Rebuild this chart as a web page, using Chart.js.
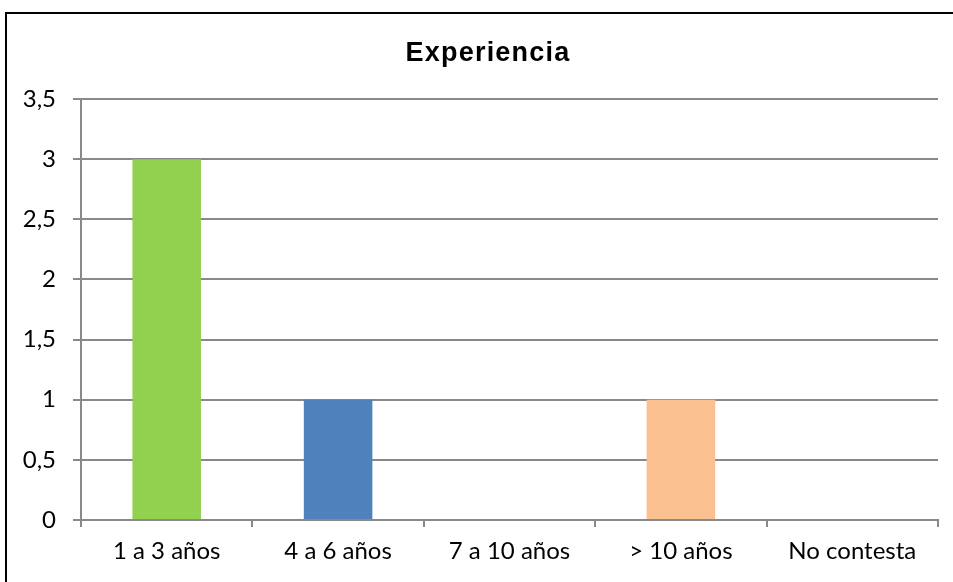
<!DOCTYPE html>
<html lang="es">
<head>
    <meta charset="UTF-8">
    <title>Experiencia</title>
    <script src="https://cdn.jsdelivr.net/npm/chart.js"></script>
    <style>
        html, body { margin: 0; padding: 0; background: #fff; }
        .wrap { position: relative; width: 953px; height: 582px; overflow: hidden; }
        .frame {
            position: absolute; left: 5px; top: 12px;
            width: 1000px; height: 600px;
            border-top: 2.5px solid #000; border-left: 2.5px solid #000;
            pointer-events: none;
        }
        canvas { position: absolute; left: 0; top: 0; }
    </style>
</head>
<body>
<div class="wrap">
    <canvas id="chart" width="953" height="582"></canvas>
    <div class="frame"></div>
</div>
<script>
    // años de experiencia
    const categories = ['1 a 3 años', '4 a 6 años', '7 a 10 años', '> 10 años', 'No contesta'];
    const values = [3, 1, 0, 1, 0];
    const barColors = ['#92D050', '#4F81BD', '#8064A2', '#FAC090', '#4BACC6'];
    const yTicks = [0, 0.5, 1, 1.5, 2, 2.5, 3, 3.5];
    const chartTitle = 'Experiencia';

    const gridColor = '#898989';
    const labelFont = { family: 'Lato, "Open Sans", sans-serif', size: 24 };

    // title sits a little right of the canvas centre
    const titlePlugin = {
        id: 'chartTitle',
        afterDraw(chart) {
            const ctx = chart.ctx;
            ctx.save();
            ctx.font = 'bold 27px "Liberation Sans", Arial, sans-serif';
            ctx.letterSpacing = '1.2px';
            ctx.fillStyle = '#000';
            ctx.textAlign = 'center';
            ctx.textBaseline = 'alphabetic';
            ctx.fillText(chartTitle, 488, 61);
            ctx.restore();
        }
    };

    new Chart(document.getElementById('chart'), {
        type: 'bar',
        data: {
            labels: categories,
            datasets: [{
                data: values,
                backgroundColor: barColors,
                borderWidth: 0,
                barPercentage: 0.4,
                categoryPercentage: 1
            }]
        },
        plugins: [titlePlugin],
        options: {
            responsive: false,
            animation: false,
            layout: { padding: { left: 0, right: 15, top: 99, bottom: 0 } },
            plugins: {
                legend: { display: false },
                tooltip: { enabled: false },
                title: { display: false }
            },
            scales: {
                x: {
                    offset: true,
                    grid: {
                        offset: true,
                        drawOnChartArea: false,
                        color: gridColor,
                        lineWidth: 2,
                        tickLength: 7
                    },
                    border: { color: gridColor, width: 2 },
                    ticks: { color: '#000', font: labelFont, padding: 10, maxRotation: 0 },
                    afterFit: function(scale) { scale.height = 62; }
                },
                y: {
                    min: 0,
                    max: 3.5,
                    afterBuildTicks: function(scale) {
                        scale.ticks = yTicks.map(v => ({ value: v }));
                    },
                    grid: { color: gridColor, lineWidth: 2, tickLength: 8 },
                    border: { color: gridColor, width: 2 },
                    ticks: {
                        color: '#000',
                        font: labelFont,
                        padding: 17,
                        callback: v => String(v).replace('.', ',')
                    },
                    afterFit: function(scale) { scale.width = 81; }
                }
            }
        }
    });
</script>
</body>
</html>
